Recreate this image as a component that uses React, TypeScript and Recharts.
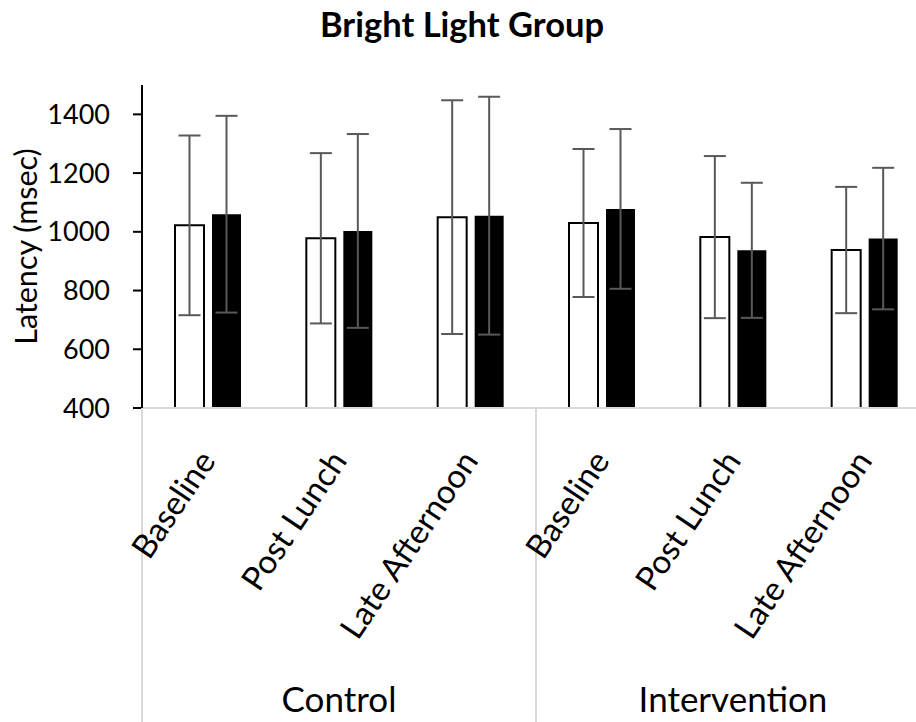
import React from 'react';
import { BarChart, Bar, XAxis, YAxis, ErrorBar } from 'recharts';

const categories = ['Baseline', 'Post Lunch', 'Late Afternoon', 'Baseline', 'Post Lunch', 'Late Afternoon'];
const groups = ['Control', 'Control', 'Control', 'Intervention', 'Intervention', 'Intervention'];

// open bars
const whiteMeans = [1022, 978, 1050, 1030, 982, 938];
const whiteErr = [306, 290, 398, 252, 276, 215];
// filled bars
const blackMeans = [1060, 1003, 1055, 1078, 937, 977];
const blackErr = [335, 330, 405, 272, 230, 241];

const yTicks = [400, 600, 800, 1000, 1200, 1400];

const data = categories.map((c, i) => ({
  key: `${groups[i]} ${c}`,
  white: whiteMeans[i],
  whiteErr: whiteErr[i],
  black: blackMeans[i],
  blackErr: blackErr[i],
}));

const FONT = 'Lato, "Open Sans", sans-serif';
const CHART_H = 722;
const AXIS_H = 314;

// middle category of each group carries the group name
function groupMiddle(i: number) {
  const g = groups[i];
  const first = groups.indexOf(g);
  const last = groups.lastIndexOf(g);
  return i === Math.floor((first + last) / 2);
}

function CategoryTick(props: any) {
  const { x, y, index, payload } = props;
  const half = payload?.offset ?? 0;
  const isFirst = index === 0 || groups[index] !== groups[index - 1];
  const isLast = index === categories.length - 1;
  const tx = x + 9;
  const ty = y + 53;
  return (
    <g>
      {isFirst && <line x1={x - half} x2={x - half} y1={y} y2={y + AXIS_H} stroke="#d9d9d9" strokeWidth={2} />}
      {isLast && <line x1={x + half} x2={x + half} y1={y} y2={y + AXIS_H} stroke="#d9d9d9" strokeWidth={2} />}
      <text
        x={tx}
        y={ty}
        transform={`rotate(-56, ${tx}, ${ty})`}
        textAnchor="end"
        fontFamily={FONT}
        fontSize={33}
        fill="#000"
      >
        {categories[index]}
      </text>
      {groupMiddle(index) && (
        <text x={x} y={y + 304} textAnchor="middle" fontFamily={FONT} fontSize={35} fill="#000">
          {groups[index]}
        </text>
      )}
    </g>
  );
}

function YLabel(props: any) {
  const { viewBox } = props;
  const cx = viewBox.x + 25;
  const cy = viewBox.y + viewBox.height / 2;
  return (
    <text
      x={cx}
      y={cy}
      transform={`rotate(-90, ${cx}, ${cy})`}
      textAnchor="middle"
      dominantBaseline="central"
      fontFamily={FONT}
      fontSize={30.5}
      fill="#000"
    >
      Latency (msec)
    </text>
  );
}

export default function App() {
  return (
    <div style={{ position: 'absolute', left: 0, top: 0, width: 916, height: 722, overflow: 'hidden', background: '#fff' }}>
      <svg width={916} height={60} style={{ position: 'absolute', left: 0, top: 0 }}>
        <text x={462} y={37} textAnchor="middle" fontFamily={FONT} fontWeight="bold" fontSize={34.5} fill="#000">
          Bright Light Group
        </text>
      </svg>
      <BarChart
        width={940}
        height={CHART_H}
        data={data}
        margin={{ top: 85, right: 10, bottom: 0, left: 0 }}
        barSize={29}
        barGap={8}
      >
        <XAxis
          dataKey="key"
          height={AXIS_H}
          interval={0}
          tickLine={false}
          tickSize={0}
          tickMargin={0}
          axisLine={{ stroke: '#d9d9d9', strokeWidth: 2 }}
          tick={<CategoryTick />}
        />
        <YAxis
          width={142}
          domain={[400, 1500]}
          ticks={yTicks}
          allowDataOverflow
          axisLine={{ stroke: '#000', strokeWidth: 2 }}
          tickLine={{ stroke: '#000', strokeWidth: 2 }}
          tickSize={9}
          tickMargin={23}
          tick={{ fontFamily: FONT, fontSize: 27, fill: '#000' }}
          label={{ content: <YLabel /> }}
        />
        <Bar dataKey="white" fill="#fff" stroke="#000" strokeWidth={2} isAnimationActive={false}>
          <ErrorBar dataKey="whiteErr" width={11} stroke="#595959" strokeWidth={2} isAnimationActive={false} />
        </Bar>
        <Bar dataKey="black" fill="#000" isAnimationActive={false}>
          <ErrorBar dataKey="blackErr" width={11} stroke="#595959" strokeWidth={2} isAnimationActive={false} />
        </Bar>
      </BarChart>
    </div>
  );
}
